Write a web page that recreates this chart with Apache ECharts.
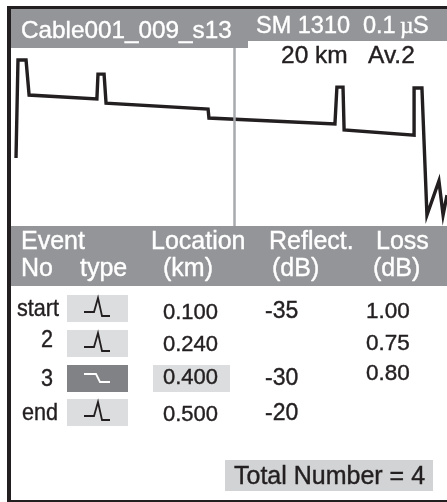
<!DOCTYPE html>
<html>
<head>
<meta charset="utf-8">
<style>
  html, body { margin: 0; padding: 0; background: #fff; }
  #chart { width: 447px; height: 502px; }
</style>
<script src="https://cdn.jsdelivr.net/npm/echarts@6/dist/echarts.min.js"></script>
</head>
<body>
<div id="chart"></div>
<script>
// trace: distance (km) and level (dB)
const traceKm = [0.23, 0.32, 0.69, 0.83, 3.94, 3.99, 4.27, 4.36, 9.04, 9.08, 14.86, 14.95, 15.23, 15.28, 18.49, 18.49, 18.85, 19.08, 19.63, 19.82, 20];
const traceDb = [11.46, 27.97, 27.97, 22.07, 21.4, 25.6, 25.6, 20.7, 19.7, 18.2, 17.2, 23.4, 23.4, 16.2, 15.3, 23.25, 23.25, 1.85, 7.58, 1.85, 5.2];
const cursorKm = 10.23;

// table
const eventNo = ["start", "2", "3", "end"];
const eventType = ["peak", "peak", "step", "peak"];
const locations = ["0.100", "0.240", "0.400", "0.500"];
const reflect = ["-35", "", "-30", "-20"];
const loss = ["1.00", "0.75", "0.80", ""];

const GRAY = "#939598";
const INK = "#231f20";
const FONT = '"Liberation Sans", Arial, sans-serif';

const chart = echarts.init(document.getElementById("chart"), null, { renderer: "canvas" });

function rect(x, y, w, h, fill) {
  return { type: "rect", shape: { x, y, width: w, height: h }, style: { fill }, z: 1 };
}
// x is the left edge (or right edge for align right), base is the text baseline
function label(text, x, base, size, fill, opts) {
  opts = opts || {};
  return {
    type: "text", x, y: base - size * 0.3465, z: 5,
    scaleX: opts.scaleX || 1,
    style: {
      text, fill, fontSize: size, fontFamily: opts.font || FONT,
      stroke: fill, lineWidth: 0.4,
      align: opts.align || "left", verticalAlign: "middle"
    }
  };
}
function icon(kind, x, y, color) {
  const pts = kind === "peak"
    ? [[17, 17], [27, 17], [31, 3], [35, 21], [43, 21]]
    : [[17, 9], [29, 9], [33, 17], [43, 17]];
  return {
    type: "polyline", z: 5,
    shape: { points: pts.map(p => [x + p[0], y + p[1]]) },
    style: { stroke: color, lineWidth: 1.8, fill: null }
  };
}

const rowTop = [295, 330, 365, 399];
const noBase = [318, 349, 388, 422];
const noRight = [59, 53, 53, 58];
const locBase = [321, 353, 386, 423];
const refBase = [320, 0, 387, 422];
const lossBase = [320, 352, 382, 0];

const g = [];
// frame and bands
g.push(rect(7, 6, 440, 3, INK));
g.push(rect(7, 6, 4, 496, INK));
g.push(rect(7, 500, 440, 2, INK));
g.push(rect(11, 9, 237, 39, GRAY));
g.push(rect(248, 9, 199, 32, GRAY));
g.push(rect(11, 226, 436, 60, GRAY));

// header
g.push(label("Cable001_009_s13", 21, 40, 24.3, "#fff"));
g.push(label("SM 1310", 256, 35, 23.5, "#fff"));
g.push(label("0.1", 363, 35, 23.5, "#fff"));
g.push(label("\u00b5", 400, 35, 23.5, "#fff", { font: '"Liberation Serif", serif' }));
g.push(label("S", 413, 35, 23.5, "#fff"));
g.push(label("20 km", 281, 65, 24.5, INK));
g.push(label("Av.2", 368, 65, 24.5, INK));

// table header
g.push(label("Event", 21, 251, 25, "#fff"));
g.push(label("No", 21, 278, 25, "#fff"));
g.push(label("type", 80, 278, 25, "#fff"));
g.push(label("Location", 151, 251, 25, "#fff"));
g.push(label("(km)", 163, 278, 25, "#fff"));
g.push(label("Reflect.", 269, 251, 25, "#fff"));
g.push(label("(dB)", 272, 278, 25, "#fff"));
g.push(label("Loss", 376, 251, 25, "#fff"));
g.push(label("(dB)", 373, 278, 25, "#fff"));

// table rows
eventNo.forEach((no, i) => {
  const selected = eventType[i] === "step";
  g.push(label(no, noRight[i], noBase[i], 24, INK, { scaleX: 0.9, align: "right" }));
  g.push(rect(67, rowTop[i], 61, 27, selected ? "#808285" : "#dcddde"));
  g.push(icon(eventType[i], 67, rowTop[i], selected ? "#fff" : INK));
  if (selected) g.push(rect(153, rowTop[i], 77, 27, "#dcddde"));
  g.push(label(locations[i], 163, locBase[i], 22, INK));
  if (reflect[i]) g.push(label(reflect[i], 265, refBase[i], 23, INK));
  if (loss[i]) g.push(label(loss[i], 366, lossBase[i], 22.5, INK));
});

// total
g.push(rect(225, 460, 208, 31, "#d1d3d4"));
g.push(label("Total Number = " + eventNo.length, 234, 486, 25, INK));

chart.setOption({
  animation: false,
  backgroundColor: "#fff",
  grid: { left: 11, top: 48, width: 436, height: 178 },
  xAxis: { type: "value", min: 0, max: 20, show: false },
  yAxis: { type: "value", min: 0, max: 30, show: false },
  graphic: g,
  series: [{
    type: "line",
    data: traceKm.map((km, i) => [km, traceDb[i]]),
    symbol: "none",
    clip: true,
    lineStyle: { color: INK, width: 3.4, join: "miter" },
    z: 3,
    markLine: {
      silent: true, symbol: "none", label: { show: false },
      lineStyle: { color: "#a7a9ac", width: 2.5, type: "solid" },
      data: [{ xAxis: cursorKm }]
    }
  }]
});
</script>
</body>
</html>
